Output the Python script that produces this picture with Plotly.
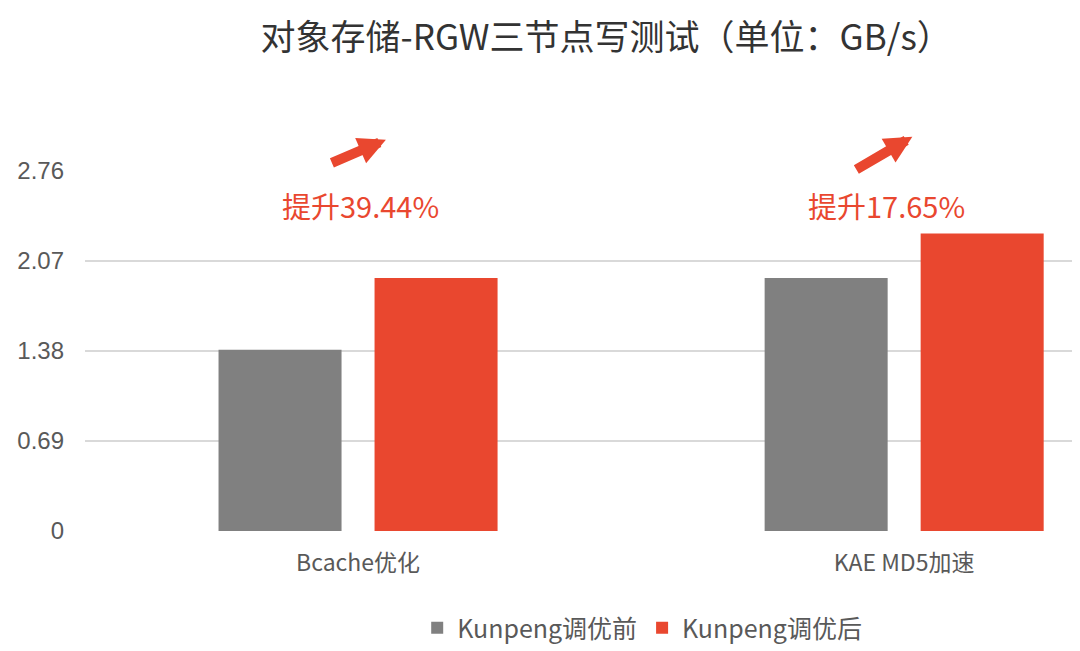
import plotly.graph_objects as go

# Données (GB/s)
categories = ["Bcache优化", "KAE MD5加速"]
avant = [1.39, 1.94]
apres = [1.94, 2.28]
y_ticks = [0, 0.69, 1.38, 2.07, 2.76]
gains = ["提升39.44%", "提升17.65%"]

gris = "#808080"
rouge = "#E9472F"
police = "Noto Sans CJK SC"

fig = go.Figure()
fig.add_trace(go.Bar(x=categories, y=avant, name="Kunpeng调优前",
                     marker=dict(color=gris, line=dict(width=0))))
fig.add_trace(go.Bar(x=categories, y=apres, name="Kunpeng调优后",
                     marker=dict(color=rouge, line=dict(width=0))))

# flèches (yref paper, sinon plotly les masque hors plage) + textes de gain
fleches = [(0.051, 1.087, -58, 25), (1.015, 1.095, -60, 35)]
textes = [(0.004, 2.50), (0.967, 2.50)]
for (xa, ya, ax, ay), (xt, yt), g in zip(fleches, textes, gains):
    fig.add_annotation(x=xa, y=ya, xref="x", yref="paper", ax=ax, ay=ay,
                       axref="pixel", ayref="pixel",
                       showarrow=True, arrowhead=2, arrowsize=0.55,
                       arrowwidth=10, arrowcolor=rouge, text=" ")
    fig.add_annotation(x=xt, y=yt, xref="x", yref="y", text=g,
                       showarrow=False,
                       font=dict(family=police, size=29, color=rouge))

fig.update_layout(
    width=1072, height=643,
    paper_bgcolor="white", plot_bgcolor="white",
    margin=dict(l=77, r=0, t=163, b=114),
    title=dict(text="对象存储-RGW三节点写测试（单位：GB/s）",
               x=0.558, xanchor="center", y=0.953, yanchor="middle",
               font=dict(family=police, size=35, color="#333333")),
    font=dict(family=police, size=22, color="#595959"),
    barmode="group", bargap=0.4286, bargroupgap=0.2115,
    showlegend=True,
    legend=dict(orientation="h", x=0.56, xanchor="center", y=-0.27,
                yanchor="middle", font=dict(size=25, color="#595959"),
                itemwidth=30, traceorder="normal"),
    xaxis=dict(range=[-0.5, 1.322], showgrid=False, zeroline=False,
               showline=False, ticks="", ticklabelstandoff=16,
               tickfont=dict(size=23)),
    yaxis=dict(range=[0, 2.76], tickvals=y_ticks,
               ticktext=[f"{v:g}" for v in y_ticks],
               showgrid=True, gridcolor="#D9D9D9", gridwidth=1.5,
               zeroline=False, showline=False, ticks="", ticklabelstandoff=20,
               tickfont=dict(family="Liberation Sans", size=24)),
)

fig.write_html("out.html")
